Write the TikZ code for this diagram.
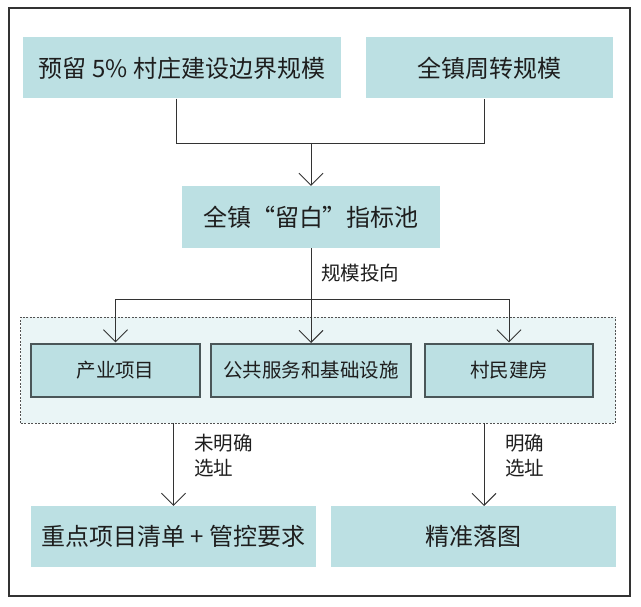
\documentclass[tikz,border=0pt]{standalone}
\usepackage{fontspec}
\setmainfont{Noto Sans CJK SC}
\usetikzlibrary{arrows.meta}
\definecolor{boxfill}{HTML}{BCE0E3}
\definecolor{poolfill}{HTML}{EAF5F6}
\definecolor{linec}{HTML}{333333}
\definecolor{innerborder}{HTML}{4A5658}
\definecolor{txt}{HTML}{1E1E1E}
\begin{document}
\begin{tikzpicture}[x=1pt,y=-1pt,
  bigbox/.style={fill=boxfill,draw=none,inner sep=0pt,text=txt,font=\fontsize{24}{28}\selectfont},
  innerbox/.style={fill=boxfill,draw=innerborder,line width=1.4pt,inner sep=0pt,text=txt,font=\fontsize{19.5}{23}\selectfont},
  conn/.style={draw=linec,line width=0.9pt},
  arr/.style={conn,-{Straight Barb[length=12pt,width=24pt,line width=0.9pt]}},
  lbl/.style={text=txt,font=\fontsize{19.5}{25}\selectfont,inner sep=0pt,align=left}]
\useasboundingbox (0,0) rectangle (641,607);
\draw[line width=1.2pt,draw=linec] (9,8) rectangle (630,596);
% top boxes
\node[bigbox,minimum width=318pt,minimum height=61pt] (A) at (182,68) {预留 5\% 村庄建设边界规模};
\node[bigbox,minimum width=247pt,minimum height=61pt] (B) at (489.5,68) {全镇周转规模};
\node[bigbox,minimum width=258pt,minimum height=62pt] (C) at (311,217) {全镇“留白”指标池};
\coordinate (ja) at (176,143);
\coordinate (jb) at (484,143);
\draw[conn] (A.south -| ja) -- (ja) -- (jb) -- (B.south -| jb);
\draw[arr] (C.north |- ja) -- (C.north);
% pool
\node[fill=poolfill,draw=linec!85,dash pattern=on 2pt off 1.5pt,line width=0.8pt,minimum width=595pt,minimum height=106pt,inner sep=0pt] (pool) at (318,370) {};
\node[innerbox,minimum width=169pt,minimum height=53pt] (p1) at (115.5,370.5) {产业项目};
\node[innerbox,minimum width=200pt,minimum height=53pt] (p2) at (311,370.5) {公共服务和基础设施};
\node[innerbox,minimum width=168pt,minimum height=53pt] (p3) at (509,370.5) {村民建房};
\coordinate (h) at (311,299);
\draw[conn] (C.south) -- (h);
\draw[arr] (h) -- (p2.north |- 343,343);
\draw[arr] (h) -| ([yshift=1pt]p1.north);
\draw[arr] (h) -| ([yshift=1pt]p3.north);
\node[lbl,anchor=west] (l1) at (321,273) {规模投向};
% bottom
\node[bigbox,minimum width=285pt,minimum height=61pt] (D) at (173.5,536.5) {重点项目清单 + 管控要求};
\node[bigbox,minimum width=285pt,minimum height=61pt] (E) at (473.5,536.5) {精准落图};
\coordinate (ke) at (484,506);
\draw[arr] (pool.south -| D.north) -- (D.north);
\draw[arr] (pool.south -| ke) -- (ke);
\node[lbl,anchor=north west] (l2) at (194,434) {未明确\\选址};
\node[lbl,anchor=north west] (l3) at (505,434) {明确\\选址};
\end{tikzpicture}
\end{document}
